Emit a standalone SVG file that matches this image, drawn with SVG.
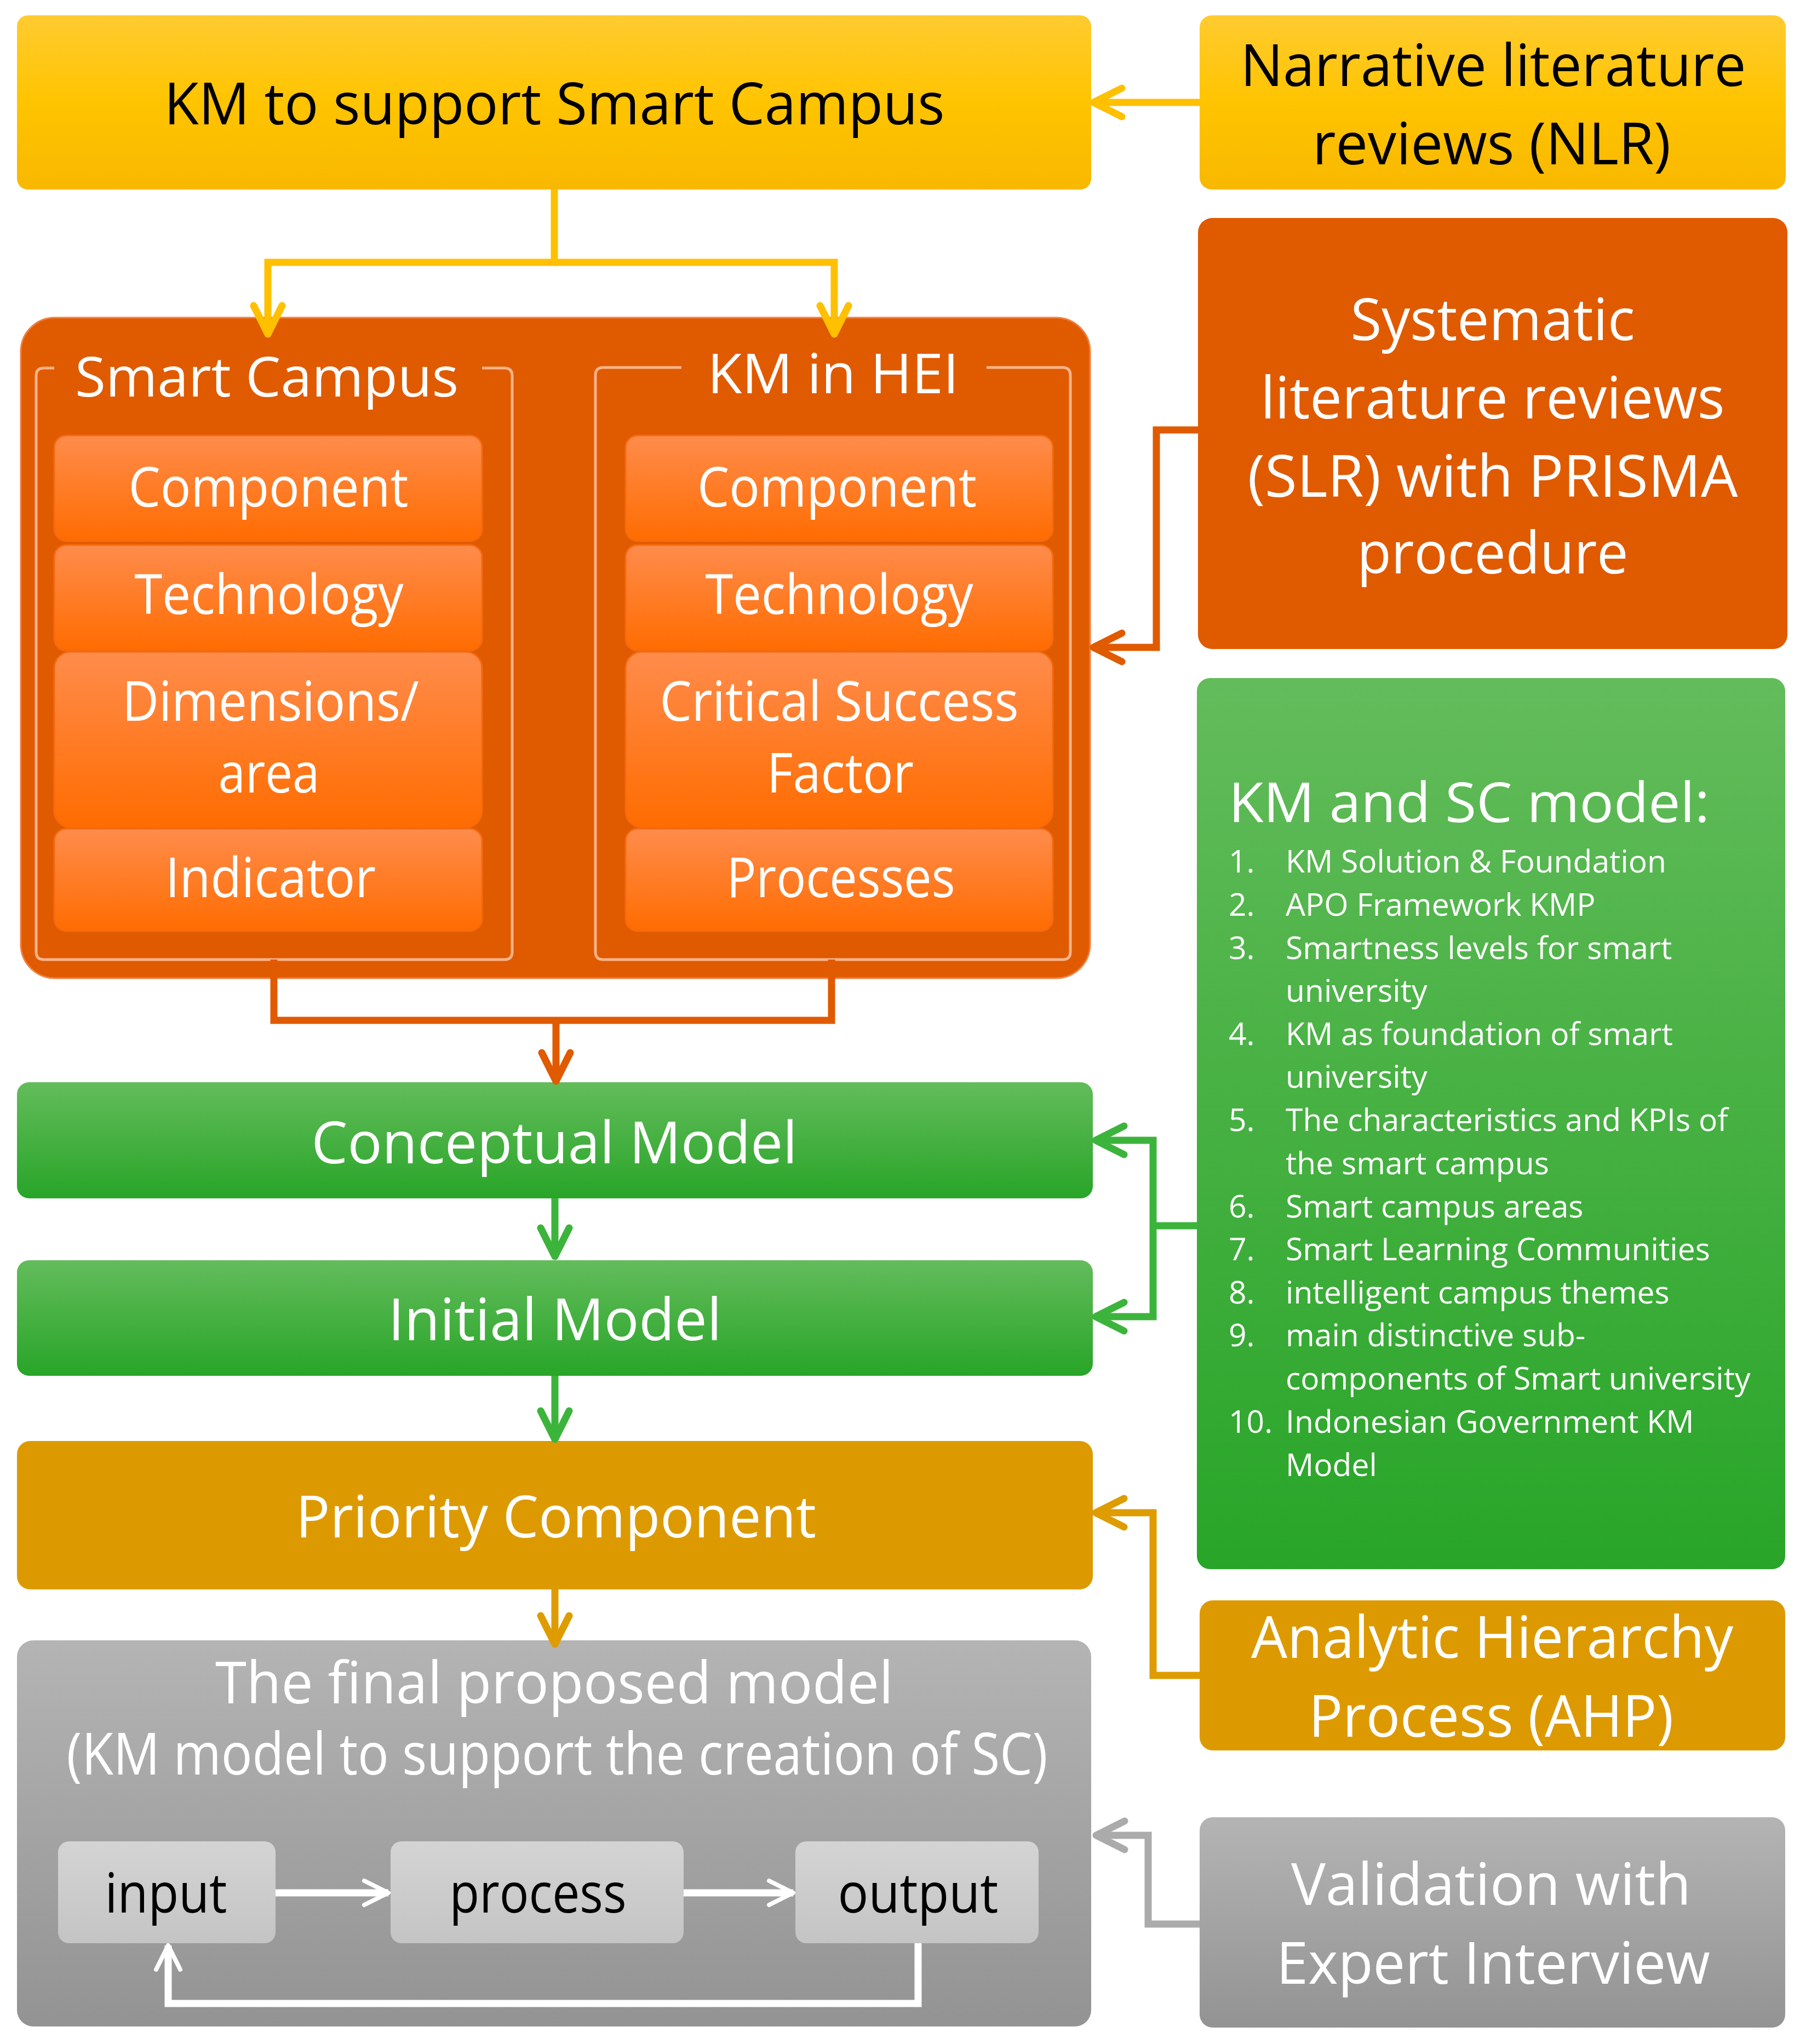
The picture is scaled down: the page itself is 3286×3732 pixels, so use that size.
<svg xmlns="http://www.w3.org/2000/svg" width="3286" height="3732" viewBox="0 0 3286 3732">
<style>
.t{font-family:"Open Sans","Liberation Sans",sans-serif;text-anchor:middle}
.w{fill:#ffffff}
.k{fill:#000000}
.b{font-size:106px}
.m{font-size:100px}
.li{font-family:"Open Sans","Liberation Sans",sans-serif;font-size:57px;fill:#ffffff}
.c{fill:none;stroke-width:13;stroke-linejoin:miter}
.frame{fill:none;stroke:#F9B489;stroke-width:5}
</style>
<defs>
<linearGradient id="gY" x1="0" y1="0" x2="0" y2="1"><stop offset="0" stop-color="#FFCB30"/><stop offset="0.5" stop-color="#FFC400"/><stop offset="1" stop-color="#F8B800"/></linearGradient>
<linearGradient id="gO" x1="0" y1="0" x2="0" y2="1"><stop offset="0" stop-color="#FF8C4C"/><stop offset="1" stop-color="#FF6C00"/></linearGradient>
<linearGradient id="gG" x1="0" y1="0" x2="0" y2="1"><stop offset="0" stop-color="#63BC5B"/><stop offset="1" stop-color="#28A528"/></linearGradient>
<linearGradient id="gGr" x1="0" y1="0" x2="0" y2="1"><stop offset="0" stop-color="#B4B4B4"/><stop offset="1" stop-color="#939393"/></linearGradient>
<linearGradient id="gL" x1="0" y1="0" x2="0" y2="1"><stop offset="0" stop-color="#D4D4D4"/><stop offset="1" stop-color="#C4C4C4"/></linearGradient>
<marker id="aY" markerUnits="userSpaceOnUse" markerWidth="80" markerHeight="80" refX="60" refY="40" orient="auto" style="overflow:visible"><path d="M8 14 L60 40 L8 66" fill="none" stroke="#FFC000" stroke-width="13" stroke-linecap="round" stroke-linejoin="round"/></marker>
<marker id="aO" markerUnits="userSpaceOnUse" markerWidth="80" markerHeight="80" refX="60" refY="40" orient="auto" style="overflow:visible"><path d="M8 14 L60 40 L8 66" fill="none" stroke="#E05A00" stroke-width="13" stroke-linecap="round" stroke-linejoin="round"/></marker>
<marker id="aG" markerUnits="userSpaceOnUse" markerWidth="80" markerHeight="80" refX="60" refY="40" orient="auto" style="overflow:visible"><path d="M8 14 L60 40 L8 66" fill="none" stroke="#3CB43C" stroke-width="13" stroke-linecap="round" stroke-linejoin="round"/></marker>
<marker id="aD" markerUnits="userSpaceOnUse" markerWidth="80" markerHeight="80" refX="60" refY="40" orient="auto" style="overflow:visible"><path d="M8 14 L60 40 L8 66" fill="none" stroke="#DE9C00" stroke-width="13" stroke-linecap="round" stroke-linejoin="round"/></marker>
<marker id="aS" markerUnits="userSpaceOnUse" markerWidth="80" markerHeight="80" refX="60" refY="40" orient="auto" style="overflow:visible"><path d="M8 14 L60 40 L8 66" fill="none" stroke="#ABABAB" stroke-width="13" stroke-linecap="round" stroke-linejoin="round"/></marker>
<marker id="aW" markerUnits="userSpaceOnUse" markerWidth="80" markerHeight="80" refX="60" refY="40" orient="auto" style="overflow:visible"><path d="M16 18 L60 40 L16 62" fill="none" stroke="#FFFFFF" stroke-width="8" stroke-linecap="round" stroke-linejoin="round"/></marker>
</defs>
<rect width="3286" height="3732" fill="#ffffff"/>

<g id="node-km-support">
<rect x="31" y="28" width="1961" height="318" rx="20" fill="url(#gY)"/>
<text class="t k b" x="1012" y="227" textLength="1425" lengthAdjust="spacingAndGlyphs">KM to support Smart Campus</text>
</g>

<g id="node-nlr">
<rect x="2190" y="28" width="1070" height="318" rx="22" fill="url(#gY)"/>
<text class="t k b" x="2726" y="157" textLength="923" lengthAdjust="spacingAndGlyphs">Narrative literature</text>
<text class="t k b" x="2723" y="300" textLength="654" lengthAdjust="spacingAndGlyphs">reviews (NLR)</text>
</g>

<g id="node-container">
<rect x="38" y="580" width="1952" height="1206" rx="62" fill="#E05A00" stroke="#F08040" stroke-width="3"/>
</g>

<g id="node-smart-campus">
<path class="frame" d="M99 672 H80 Q66 672 66 686 V1738 Q66 1752 80 1752 H921 Q935 1752 935 1738 V686 Q935 672 921 672 H880"/>
<text class="t w m" x="487" y="724" textLength="700" lengthAdjust="spacingAndGlyphs">Smart Campus</text>
<g id="sc-component"><rect x="99" y="795" width="781" height="193" rx="22" fill="url(#gO)" stroke="#F56A10" stroke-width="3"/><text class="t w m" x="490" y="925" textLength="511" lengthAdjust="spacingAndGlyphs">Component</text></g>
<g id="sc-technology"><rect x="99" y="995" width="781" height="193" rx="22" fill="url(#gO)" stroke="#F56A10" stroke-width="3"/><text class="t w m" x="491" y="1121" textLength="491" lengthAdjust="spacingAndGlyphs">Technology</text></g>
<g id="sc-dimensions"><rect x="99" y="1190" width="781" height="321" rx="30" fill="url(#gO)" stroke="#F56A10" stroke-width="3"/><text class="t w m" x="494" y="1316" textLength="542" lengthAdjust="spacingAndGlyphs">Dimensions/</text><text class="t w m" x="491" y="1447" textLength="185" lengthAdjust="spacingAndGlyphs">area</text></g>
<g id="sc-indicator"><rect x="99" y="1513" width="781" height="187" rx="22" fill="url(#gO)" stroke="#F56A10" stroke-width="3"/><text class="t w m" x="494" y="1638" textLength="384" lengthAdjust="spacingAndGlyphs">Indicator</text></g>
</g>

<g id="node-km-hei">
<path class="frame" d="M1244 671 H1101 Q1087 671 1087 685 V1738 Q1087 1752 1101 1752 H1940 Q1954 1752 1954 1738 V685 Q1954 671 1940 671 H1801"/>
<text class="t w m" x="1521" y="718" textLength="459" lengthAdjust="spacingAndGlyphs">KM in HEI</text>
<g id="hei-component"><rect x="1142" y="795" width="780" height="193" rx="22" fill="url(#gO)" stroke="#F56A10" stroke-width="3"/><text class="t w m" x="1528" y="925" textLength="510" lengthAdjust="spacingAndGlyphs">Component</text></g>
<g id="hei-technology"><rect x="1142" y="995" width="780" height="193" rx="22" fill="url(#gO)" stroke="#F56A10" stroke-width="3"/><text class="t w m" x="1532" y="1121" textLength="489" lengthAdjust="spacingAndGlyphs">Technology</text></g>
<g id="hei-csf"><rect x="1142" y="1190" width="780" height="321" rx="30" fill="url(#gO)" stroke="#F56A10" stroke-width="3"/><text class="t w m" x="1532" y="1316" textLength="655" lengthAdjust="spacingAndGlyphs">Critical Success</text><text class="t w m" x="1534" y="1447" textLength="268" lengthAdjust="spacingAndGlyphs">Factor</text></g>
<g id="hei-processes"><rect x="1142" y="1513" width="780" height="187" rx="22" fill="url(#gO)" stroke="#F56A10" stroke-width="3"/><text class="t w m" x="1535" y="1638" textLength="417" lengthAdjust="spacingAndGlyphs">Processes</text></g>
</g>

<g id="node-slr">
<rect x="2187" y="398" width="1076" height="787" rx="26" fill="#E05A00"/>
<text class="t w b" x="2725" y="621" textLength="519" lengthAdjust="spacingAndGlyphs">Systematic</text>
<text class="t w b" x="2725" y="764" textLength="847" lengthAdjust="spacingAndGlyphs">literature reviews</text>
<text class="t w b" x="2725" y="907" textLength="895" lengthAdjust="spacingAndGlyphs">(SLR) with PRISMA</text>
<text class="t w b" x="2725" y="1047" textLength="495" lengthAdjust="spacingAndGlyphs">procedure</text>
</g>

<g id="node-km-sc-model">
<rect x="2185" y="1238" width="1074" height="1627" rx="24" fill="url(#gG)"/>
<text class="t w m" x="2243" y="1501" style="text-anchor:start" textLength="878" lengthAdjust="spacingAndGlyphs">KM and SC model:</text>
<text class="li" x="2243" y="1593">1.</text><text class="li" x="2347" y="1593">KM Solution &amp; Foundation</text>
<text class="li" x="2243" y="1672">2.</text><text class="li" x="2347" y="1672">APO Framework KMP</text>
<text class="li" x="2243" y="1751">3.</text><text class="li" x="2347" y="1751">Smartness levels for smart</text>
<text class="li" x="2347" y="1829">university</text>
<text class="li" x="2243" y="1908">4.</text><text class="li" x="2347" y="1908">KM as foundation of smart</text>
<text class="li" x="2347" y="1986">university</text>
<text class="li" x="2243" y="2065">5.</text><text class="li" x="2347" y="2065">The characteristics and KPIs of</text>
<text class="li" x="2347" y="2144">the smart campus</text>
<text class="li" x="2243" y="2223">6.</text><text class="li" x="2347" y="2223">Smart campus areas</text>
<text class="li" x="2243" y="2301">7.</text><text class="li" x="2347" y="2301">Smart Learning Communities</text>
<text class="li" x="2243" y="2380">8.</text><text class="li" x="2347" y="2380">intelligent campus themes</text>
<text class="li" x="2243" y="2458">9.</text><text class="li" x="2347" y="2458">main distinctive sub-</text>
<text class="li" x="2347" y="2537">components of Smart university</text>
<text class="li" x="2243" y="2616">10.</text><text class="li" x="2347" y="2616">Indonesian Government KM</text>
<text class="li" x="2347" y="2695">Model</text>
</g>

<g id="node-conceptual">
<rect x="31" y="1976" width="1964" height="212" rx="22" fill="url(#gG)"/>
<text class="t w b" x="1012" y="2124" textLength="887" lengthAdjust="spacingAndGlyphs">Conceptual Model</text>
</g>

<g id="node-initial">
<rect x="31" y="2301" width="1964" height="211" rx="22" fill="url(#gG)"/>
<text class="t w b" x="1013" y="2447" textLength="609" lengthAdjust="spacingAndGlyphs">Initial Model</text>
</g>

<g id="node-priority">
<rect x="31" y="2631" width="1964" height="271" rx="24" fill="#DD9A00"/>
<text class="t w b" x="1015" y="2807" textLength="950" lengthAdjust="spacingAndGlyphs">Priority Component</text>
</g>

<g id="node-ahp">
<rect x="2190" y="2922" width="1069" height="274" rx="24" fill="#DD9A00"/>
<text class="t w b" x="2724" y="3027" textLength="880" lengthAdjust="spacingAndGlyphs">Analytic Hierarchy</text>
<text class="t w b" x="2722" y="3171" textLength="666" lengthAdjust="spacingAndGlyphs">Process (AHP)</text>
</g>

<g id="node-final">
<rect x="31" y="2995" width="1961" height="705" rx="30" fill="url(#gGr)"/>
<text class="t w b" x="1012" y="3110" textLength="1238" lengthAdjust="spacingAndGlyphs">The final proposed model</text>
<text class="t w b" x="1017" y="3240" textLength="1791" lengthAdjust="spacingAndGlyphs">(KM model to support the creation of SC)</text>
<g id="node-input"><rect x="106" y="3362" width="397" height="186" rx="20" fill="url(#gL)"/><text class="t k m" x="303" y="3492" textLength="223" lengthAdjust="spacingAndGlyphs">input</text></g>
<g id="node-process"><rect x="713" y="3362" width="535" height="186" rx="20" fill="url(#gL)"/><text class="t k m" x="982" y="3492" textLength="323" lengthAdjust="spacingAndGlyphs">process</text></g>
<g id="node-output"><rect x="1452" y="3362" width="444" height="186" rx="20" fill="url(#gL)"/><text class="t k m" x="1676" y="3492" textLength="293" lengthAdjust="spacingAndGlyphs">output</text></g>
</g>

<g id="node-validation">
<rect x="2190" y="3318" width="1069" height="384" rx="24" fill="url(#gGr)"/>
<text class="t w b" x="2722" y="3478" textLength="730" lengthAdjust="spacingAndGlyphs">Validation with</text>
<text class="t w b" x="2726" y="3622" textLength="792" lengthAdjust="spacingAndGlyphs">Expert Interview</text>
</g>

<g id="connectors">
<path class="c" stroke="#FFC000" d="M2190 187 H1996" marker-end="url(#aY)"/>
<path class="c" stroke="#FFC000" d="M1012 346 V479 H489 V610" marker-end="url(#aY)"/>
<path class="c" stroke="#FFC000" d="M1012 479 H1523 V610" marker-end="url(#aY)"/>
<path class="c" stroke="#E05A00" d="M2187 785 H2111 V1182 H1996" marker-end="url(#aO)"/>
<path class="c" stroke="#E05A00" d="M500 1752 V1863 H1518 V1752"/>
<path class="c" stroke="#E05A00" d="M1015 1863 V1974" marker-end="url(#aO)"/>
<path class="c" stroke="#3CB43C" d="M1013 2188 V2294" marker-end="url(#aG)"/>
<path class="c" stroke="#3CB43C" d="M1013 2512 V2628" marker-end="url(#aG)"/>
<path class="c" stroke="#3CB43C" d="M2185 2238 H2105"/>
<path class="c" stroke="#3CB43C" d="M2105 2238 V2082 H2000" marker-end="url(#aG)"/>
<path class="c" stroke="#3CB43C" d="M2105 2238 V2404 H2000" marker-end="url(#aG)"/>
<path class="c" stroke="#DE9C00" d="M1013 2902 V3002" marker-end="url(#aD)"/>
<path class="c" stroke="#DE9C00" d="M2190 3059 H2105 V2762 H2000" marker-end="url(#aD)"/>
<path class="c" stroke="#ABABAB" d="M2190 3513 H2096 V3351 H2001" marker-end="url(#aS)"/>
<path class="c" stroke="#FFFFFF" stroke-width="8" d="M503 3456 H709" marker-end="url(#aW)"/>
<path class="c" stroke="#FFFFFF" stroke-width="8" d="M1248 3456 H1448" marker-end="url(#aW)"/>
<path class="c" stroke="#FFFFFF" stroke-width="8" d="M1676 3548 V3658 H307 V3552" marker-end="url(#aW)"/>
</g>
</svg>
